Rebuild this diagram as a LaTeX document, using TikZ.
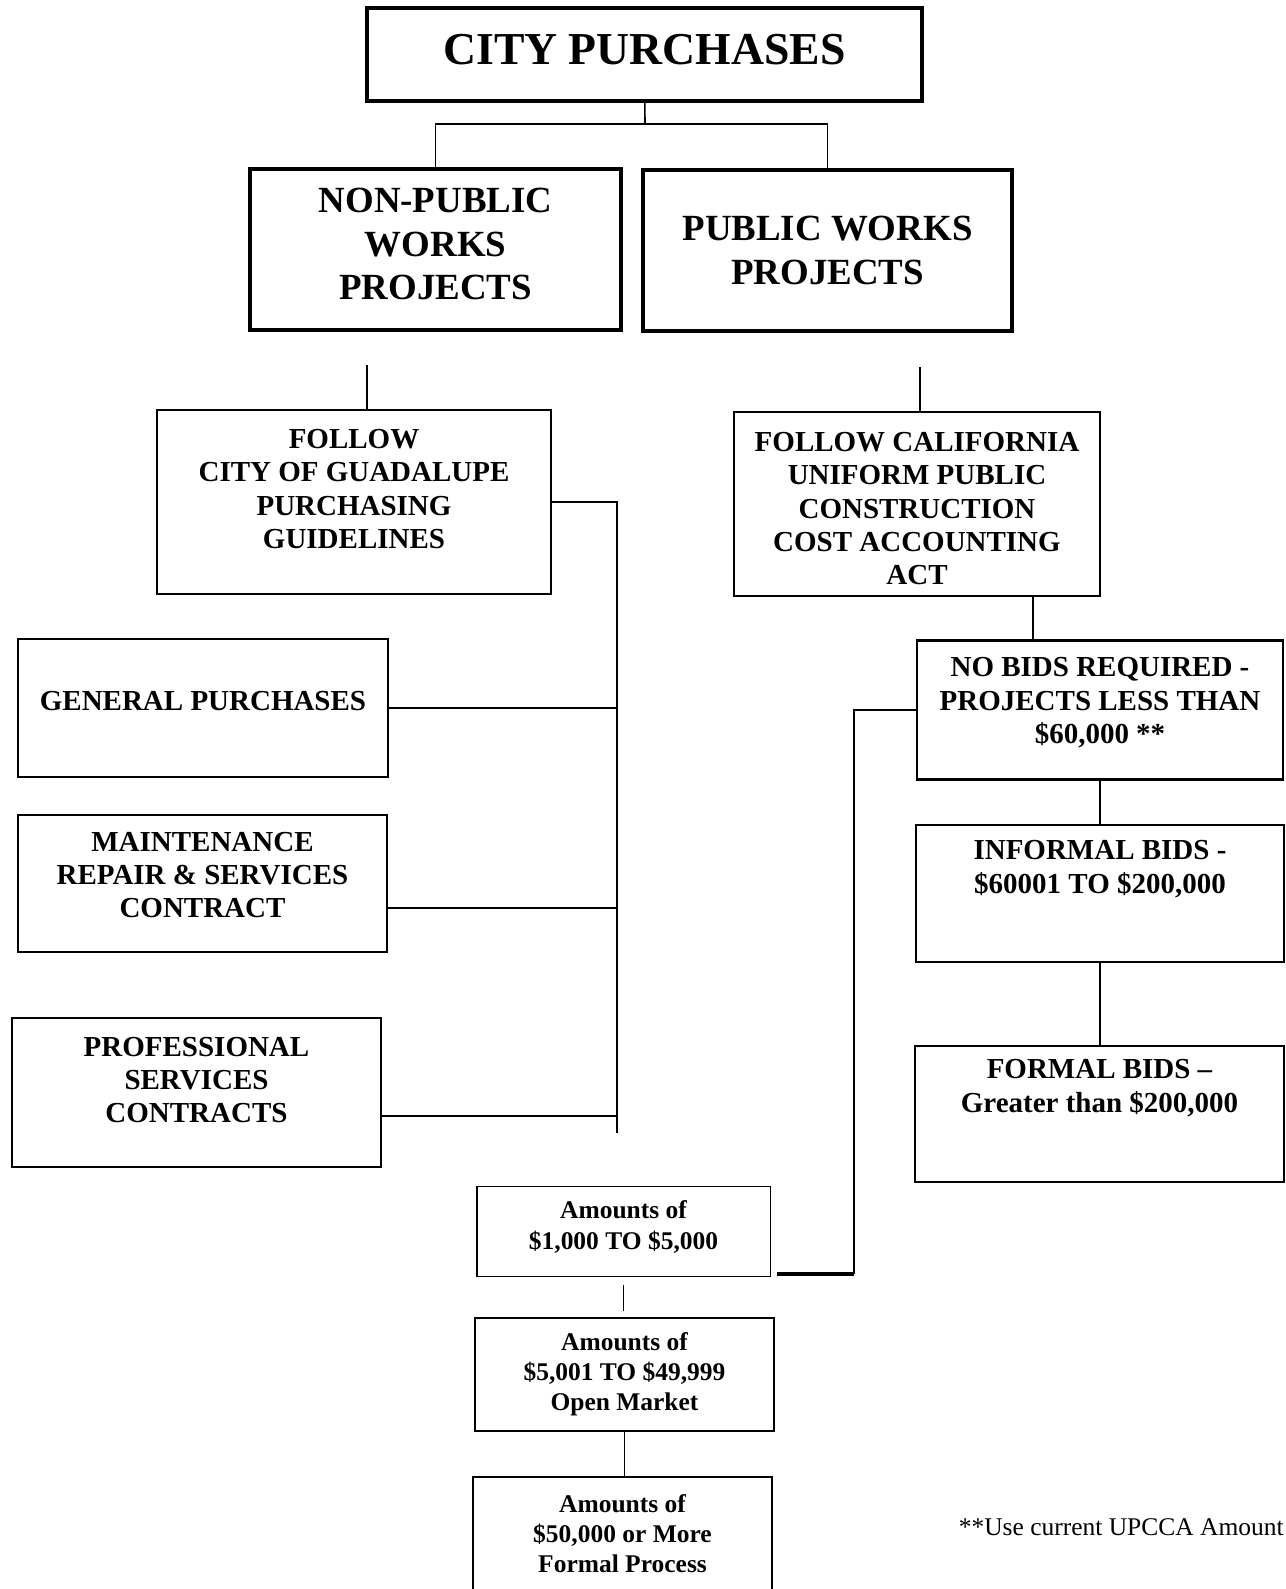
\documentclass[tikz,border=0pt]{standalone}
\usepackage{fontspec}
\setmainfont{Liberation Serif}

\begin{document}
\begin{tikzpicture}[x=0.02cm,y=-0.02cm,
  topbox/.style={draw,line width=2.3pt,inner sep=0pt},
  box/.style={draw,line width=1.5pt,inner sep=0pt},
  amtbox/.style={draw,line width=1.1pt,inner sep=0pt},
  head/.style={font=\fontsize{21}{24.7}\selectfont\bfseries,align=center},
  txt/.style={font=\fontsize{16.5}{19}\selectfont\bfseries,align=center},
  amt/.style={font=\fontsize{14.5}{17.2}\selectfont\bfseries,align=center},
  conn/.style={line width=0.9pt}
]
\useasboundingbox (0,0) rectangle (1285,1589);
\node[topbox,minimum width=11.1cm,minimum height=1.86cm,
  label={[font=\fontsize{26}{30}\selectfont\bfseries,yshift=3pt]center:CITY PURCHASES}] (city) at (644.5,54.5) {};
\node[topbox,minimum width=7.42cm,minimum height=3.22cm,
  label={[head,yshift=3pt]center:NON-PUBLIC\\WORKS\\PROJECTS}] (nonpub) at (435.5,249.5) {};
\node[topbox,minimum width=7.38cm,minimum height=3.22cm,
  label={[head]center:PUBLIC WORKS\\PROJECTS}] (pubw) at (827.5,250.5) {};

\node[box,minimum width=7.88cm,minimum height=3.68cm,
  label={[txt,yshift=7.4pt]center:FOLLOW\\CITY OF GUADALUPE\\PURCHASING\\GUIDELINES}] (cityrules) at (354,502) {};
\node[box,minimum width=7.32cm,minimum height=3.68cm,
  label={[txt,yshift=-2.6pt]center:FOLLOW CALIFORNIA\\UNIFORM PUBLIC\\CONSTRUCTION\\COST ACCOUNTING\\ACT}] (upcca) at (917,504) {};

\node[box,minimum width=7.4cm,minimum height=2.76cm,
  label={[txt,yshift=4pt]center:GENERAL PURCHASES}] (general) at (203,708) {};
\node[box,minimum width=7.38cm,minimum height=2.74cm,
  label={[txt,yshift=4.8pt]center:MAINTENANCE\\REPAIR \& SERVICES\\CONTRACT}] (maint) at (202.5,883.5) {};
\node[box,minimum width=7.38cm,minimum height=2.98cm,
  label={[txt,yshift=7.1pt]center:PROFESSIONAL\\SERVICES\\CONTRACTS}] (prof) at (196.5,1092.5) {};

\node[box,minimum width=7.32cm,minimum height=2.78cm,
  label={[txt,yshift=4pt]center:NO BIDS REQUIRED -\\PROJECTS LESS THAN\\\$60,000 **}] (nobids) at (1100,710) {};
\node[box,minimum width=7.36cm,minimum height=2.74cm,
  label={[txt,yshift=13.9pt]center:INFORMAL BIDS -\\\$60001 TO \$200,000}] (informal) at (1100,893.5) {};
\node[box,minimum width=7.38cm,minimum height=2.72cm,
  label={[txt,yshift=14.7pt]center:FORMAL BIDS --\\Greater than \$200,000}] (formal) at (1099.5,1114) {};

\node[amtbox,minimum width=5.88cm,minimum height=1.8cm,
  label={[amt,yshift=2.6pt]center:Amounts of\\\$1,000 TO \$5,000}] (amt1) at (623.5,1231.5) {};
\node[amtbox,minimum width=5.98cm,minimum height=2.26cm,
  label={[amt]center:Amounts of\\\$5,001 TO \$49,999\\Open Market}] (amt2) at (624.5,1374.5) {};
\node[amtbox,minimum width=5.98cm,minimum height=2.48cm,
  label={[amt,yshift=3pt]center:Amounts of\\\$50,000 or More\\Formal Process}] (amt3) at (622.5,1539) {};

\node[anchor=base east,inner sep=0pt,font=\fontsize{14.5}{17}\selectfont] (note) at (1284,1535) {**Use current UPCCA Amount};

\coordinate (split) at (645,124);
\coordinate (npdrop) at (367,365);
\coordinate (pwdrop) at (920,367);
\coordinate (lbus) at (617,1133);
\coordinate (rbus) at (854,1274);
\coordinate (amttap) at (777,1274);

\draw[conn] (city) -- (split);
\draw[conn] (nonpub.north) |- (split) -| (pubw.north);
\draw[conn] (npdrop) -- (npdrop |- cityrules.north);
\draw[conn] (pwdrop) -- (pwdrop |- upcca.north);
\draw[conn] (cityrules.east) -| (lbus);
\draw[conn] (general.east) -- (general.east -| lbus);
\draw[conn] (maint.east |- 0,908) -- (lbus |- 0,908);
\draw[conn] (prof.east |- 0,1116) -- (lbus |- 0,1116);
\draw[conn] (upcca.south -| 1033,0) -- (nobids.north -| 1033,0);
\draw[conn] (nobids) -- (informal);
\draw[conn] (informal) -- (informal |- formal.north);
\draw[conn] (nobids.west) -| (rbus);
\draw[line width=2pt] (rbus) -- (amttap);
\draw[conn] ([yshift=-4.5pt]amt1.south) -- ([yshift=3.4pt]amt1.south |- amt2.north);
\draw[conn] (amt2) -- (amt2 |- amt3.north);
\end{tikzpicture}
\end{document}
